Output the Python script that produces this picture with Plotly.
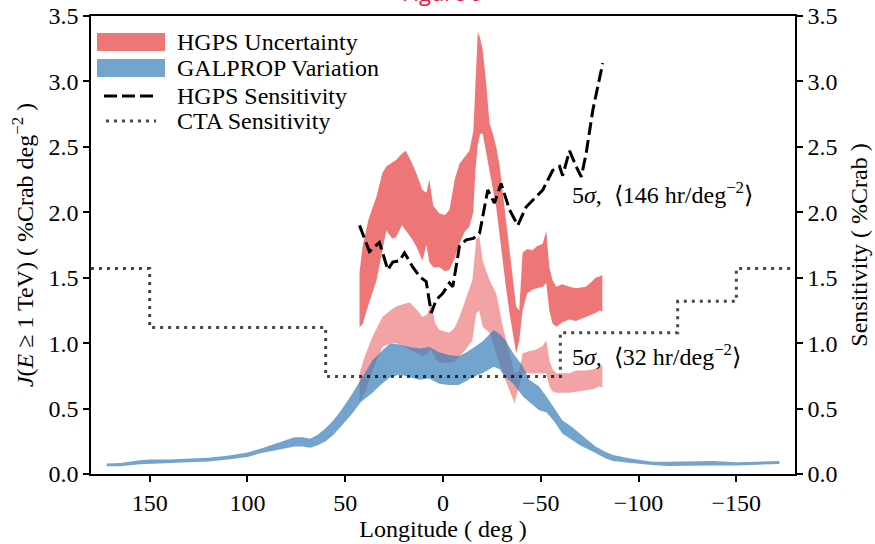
import plotly.graph_objects as go

# ---------------- data ----------------
# GALPROP variation band (blue)
galprop_lon = [172, 165, 155, 150, 140, 130, 120, 110, 100, 93, 86, 80, 76, 72, 68, 64, 60, 56, 52, 47,
               42, 36, 32, 27, 22, 17, 12, 7, 2, -3, -8, -12, -15, -20, -26, -29, -32, -36, -41, -44,
               -49, -53, -57, -61, -66, -70, -74, -78, -83, -87, -95, -101, -107, -115, -125, -138,
               -150, -160, -172]
galprop_lo = [0.06, 0.06, 0.075, 0.08, 0.085, 0.09, 0.095, 0.11, 0.13, 0.16, 0.18, 0.20, 0.21, 0.21, 0.20,
              0.22, 0.25, 0.30, 0.37, 0.45, 0.55, 0.62, 0.68, 0.74, 0.76, 0.74, 0.72, 0.73, 0.69, 0.68,
              0.68, 0.71, 0.74, 0.77, 0.82, 0.80, 0.74, 0.69, 0.59, 0.55, 0.49, 0.47, 0.40, 0.31, 0.26,
              0.22, 0.19, 0.16, 0.12, 0.10, 0.086, 0.075, 0.069, 0.062, 0.063, 0.065, 0.065, 0.07, 0.077]
galprop_hi = [0.08, 0.085, 0.105, 0.11, 0.11, 0.115, 0.125, 0.14, 0.165, 0.195, 0.23, 0.26, 0.28, 0.28, 0.27,
              0.30, 0.35, 0.41, 0.49, 0.60, 0.72, 0.87, 0.93, 1.00, 0.99, 0.97, 0.96, 0.97, 0.93, 0.91,
              0.90, 0.93, 0.96, 1.01, 1.10, 1.07, 1.02, 0.92, 0.82, 0.72, 0.67, 0.59, 0.50, 0.41, 0.36,
              0.31, 0.26, 0.21, 0.17, 0.145, 0.12, 0.105, 0.094, 0.094, 0.095, 0.10, 0.09, 0.095, 0.10]

# HGPS uncertainty band (upper, dark red)
hgps_lon = [42.7, 41, 38, 34, 31, 29, 26, 24, 21, 19, 16, 13.7, 10.5, 8.5, 7, 5, 1.8, -1, -3.3, -6,
            -8.4, -11, -13.5, -15.5, -16.5, -17.8, -19, -20.3, -22, -23.8, -25.5, -27.2, -29, -30.6,
            -32, -34, -36, -37.4, -39, -40.7, -43, -45.8, -48, -51, -52.8, -54.4, -56, -58, -61,
            -64.7, -68, -73, -76, -78, -80, -81.5]
hgps_lo = [1.12, 1.15, 1.30, 1.48, 1.70, 1.86, 1.80, 1.81, 1.90, 1.86, 1.80, 1.74, 1.63, 1.75, 1.62, 1.58,
           1.58, 1.55, 1.56, 1.65, 1.76, 1.85, 1.89, 2.00, 2.30, 2.52, 2.60, 2.60, 2.45, 2.32, 2.18, 2.04,
           1.85, 1.63, 1.45, 1.23, 1.05, 0.92, 1.02, 1.25, 1.38, 1.41, 1.42, 1.43, 1.46, 1.25, 1.15,
           1.125, 1.16, 1.18, 1.17, 1.20, 1.22, 1.23, 1.25, 1.24]
hgps_hi = [1.54, 1.75, 1.95, 2.12, 2.30, 2.35, 2.38, 2.40, 2.45, 2.47, 2.38, 2.30, 2.17, 2.15, 2.25, 2.05,
           1.99, 1.98, 2.02, 2.25, 2.37, 2.42, 2.47, 2.62, 3.00, 3.38, 3.33, 3.24, 3.00, 2.68, 2.60, 2.50,
           2.35, 2.15, 1.95, 1.69, 1.45, 1.28, 1.25, 1.69, 1.72, 1.71, 1.74, 1.76, 1.86, 1.58, 1.48,
           1.43, 1.45, 1.43, 1.42, 1.43, 1.47, 1.50, 1.51, 1.52]

# HGPS uncertainty band (lower, light red)
hgps2_lon = [42.7, 40, 36, 31, 27, 24, 20, 17, 13, 10.5, 8, 6, 4, 1.8, -3.3, -6, -8.4, -12, -15, -17,
             -18.5, -20.3, -23.8, -27.2, -30.6, -34, -36.5, -39, -40.7, -44, -47.6, -51, -52.8, -54.4,
             -56, -58, -64.7, -68, -73, -77, -80, -81.5]
hgps2_lo = [0.55, 0.62, 0.79, 0.97, 1.00, 1.00, 0.98, 0.95, 0.92, 0.90, 0.92, 0.95, 0.88, 0.85, 0.85, 0.86,
            0.90, 0.96, 1.02, 1.23, 1.25, 1.125, 1.08, 0.92, 0.77, 0.64, 0.54, 0.67, 0.77, 0.77, 0.77,
            0.77, 0.77, 0.67, 0.63, 0.62, 0.62, 0.63, 0.64, 0.65, 0.67, 0.66]
hgps2_hi = [0.77, 0.90, 1.05, 1.20, 1.25, 1.28, 1.30, 1.31, 1.25, 1.20, 1.22, 1.31, 1.15, 1.10, 1.08, 1.12,
            1.20, 1.35, 1.48, 1.79, 1.82, 1.63, 1.48, 1.38, 1.125, 0.92, 0.77, 0.79, 0.92, 0.94, 0.95,
            0.98, 1.02, 0.87, 0.80, 0.77, 0.77, 0.79, 0.79, 0.80, 0.82, 0.83]

# HGPS sensitivity (dashed)
hgps_sens_lon = [42.7, 37.6, 32.5, 28.2, 25.7, 22.2, 19.7, 15.4, 12, 8.6, 6, 3.5, 0.1, -3.3, -5, -8.4,
                 -11.9, -15.5, -18.7, -22.9, -26.3, -29.7, -34, -38.2, -42.5, -47.6, -51, -56.1,
                 -59.6, -61.2, -64.7, -68.1, -70.7, -73.2, -76.6, -81.7]
hgps_sens = [1.90, 1.70, 1.77, 1.56, 1.62, 1.63, 1.69, 1.58, 1.51, 1.47, 1.23, 1.33, 1.38, 1.46, 1.43,
             1.74, 1.79, 1.80, 1.84, 2.17, 2.07, 2.22, 2.02, 1.90, 2.04, 2.12, 2.17, 2.32, 2.35, 2.28,
             2.47, 2.35, 2.27, 2.45, 2.78, 3.14]

# CTA sensitivity (dotted steps)
cta_lon = [180, 150, 60, -60, -120, -150, -180]
cta_sens = [1.57, 1.12, 0.745, 1.08, 1.32, 1.57, 1.57]

xtick_vals = [150, 100, 50, 0, -50, -100, -150]
xtick_text = ["150", "100", "50", "0", "\u221250", "\u2212100", "\u2212150"]
ytick_vals = [0.0, 0.5, 1.0, 1.5, 2.0, 2.5, 3.0, 3.5]

legend_labels = ["HGPS Uncertainty", "GALPROP Variation", "HGPS Sensitivity", "CTA Sensitivity"]

# ---------------- styling ----------------
FONT = "Liberation Serif, Times New Roman, serif"
FS = 24
RED = "rgba(228,26,28,0.6)"
PINK = "rgba(228,26,28,0.4)"
BLUE = "rgba(55,126,184,0.7)"
DOT = "rgba(0,0,0,0.72)"

W, H = 875, 544
ML, MR, MT, MB = 91, 80, 16, 70
PW, PH = W - ML - MR, H - MT - MB


def px(x):
    return (x - ML) / PW


def py(y):
    return (H - MB - y) / PH


def band(lon, lo, hi):
    return list(lon) + list(lon)[::-1], list(hi) + list(lo)[::-1]


fig = go.Figure()

bx, by = band(hgps_lon, hgps_lo, hgps_hi)
fig.add_trace(go.Scatter(x=bx, y=by, fill="toself", fillcolor=RED, line=dict(width=0),
                         mode="lines", name=legend_labels[0], showlegend=False, hoverinfo="skip"))
bx, by = band(hgps2_lon, hgps2_lo, hgps2_hi)
fig.add_trace(go.Scatter(x=bx, y=by, fill="toself", fillcolor=PINK, line=dict(width=0),
                         mode="lines", name=legend_labels[0] + " (low)", showlegend=False, hoverinfo="skip"))
bx, by = band(galprop_lon, galprop_lo, galprop_hi)
fig.add_trace(go.Scatter(x=bx, y=by, fill="toself", fillcolor=BLUE, line=dict(width=0),
                         mode="lines", name=legend_labels[1], showlegend=False, hoverinfo="skip"))

fig.add_trace(go.Scatter(x=cta_lon, y=cta_sens, mode="lines", line_shape="hv",
                         line=dict(color=DOT, width=3, dash="3px,5px"),
                         name=legend_labels[3], showlegend=False, yaxis="y2"))
fig.add_trace(go.Scatter(x=hgps_sens_lon, y=hgps_sens, mode="lines",
                         line=dict(color="black", width=3, dash="13px,5px"),
                         name=legend_labels[2], showlegend=False, yaxis="y2"))

# manual legend
shapes = [
    dict(type="rect", xref="paper", yref="paper", x0=px(97), x1=px(165), y0=py(51), y1=py(33),
         fillcolor=RED, line=dict(width=0)),
    dict(type="rect", xref="paper", yref="paper", x0=px(97), x1=px(165), y0=py(77), y1=py(59),
         fillcolor=BLUE, line=dict(width=0)),
    dict(type="line", xref="paper", yref="paper", x0=px(104), x1=px(156), y0=py(96), y1=py(96),
         line=dict(color="black", width=3, dash="13px,5px")),
    dict(type="line", xref="paper", yref="paper", x0=px(106), x1=px(156), y0=py(121), y1=py(121),
         line=dict(color=DOT, width=3, dash="3px,5px")),
]
annotations = []
for lab, yy in zip(legend_labels, [42, 68, 96, 121]):
    annotations.append(dict(xref="paper", yref="paper", x=px(175), y=py(yy), text=lab,
                            showarrow=False, xanchor="left", yanchor="middle",
                            font=dict(family=FONT, size=FS, color="black")))

annotations.append(dict(xref="x", yref="y", x=-65, y=2.15, xanchor="left", yanchor="middle",
                        text="5<i>\u03c3</i>,  \u27e8146 hr/deg<sup>\u22122</sup>\u27e9", showarrow=False,
                        font=dict(family=FONT, size=FS, color="black")))
annotations.append(dict(xref="x", yref="y", x=-65, y=0.91, xanchor="left", yanchor="middle",
                        text="5<i>\u03c3</i>,  \u27e832 hr/deg<sup>\u22122</sup>\u27e9", showarrow=False,
                        font=dict(family=FONT, size=FS, color="black")))
annotations.append(dict(xref="paper", yref="paper", x=0.5, y=py(9), xanchor="center", yanchor="bottom",
                        text="Figure 9", showarrow=False,
                        font=dict(family="Open Sans", size=22, color="#E8173B")))

axis_common = dict(showgrid=False, zeroline=False, showline=True, linecolor="black", linewidth=1.5,
                   ticks="outside", ticklen=6, tickwidth=1.5, tickcolor="black", automargin=False,
                   tickfont=dict(family=FONT, size=FS, color="black"))

fig.update_layout(
    width=W, height=H,
    margin=dict(l=ML, r=MR, t=MT, b=MB, autoexpand=False),
    paper_bgcolor="white", plot_bgcolor="white",
    showlegend=False,
    shapes=shapes, annotations=annotations,
    xaxis=dict(range=[180, -180], tickvals=xtick_vals, ticktext=xtick_text, mirror=True,
               title=dict(text="Longitude ( deg )", font=dict(family=FONT, size=FS, color="black"), standoff=6),
               **axis_common),
    yaxis=dict(range=[0, 3.5], tickvals=ytick_vals, tickformat=".1f",
               title=dict(text="<i>J</i>(<i>E</i> \u2265 1 TeV) ( %Crab deg<sup>\u22122</sup> )",
                          font=dict(family=FONT, size=FS, color="black"), standoff=8),
               **axis_common),
    yaxis2=dict(range=[0, 3.5], tickvals=ytick_vals, tickformat=".1f", overlaying="y", side="right",
                title=dict(text="Sensitivity ( %Crab )", font=dict(family=FONT, size=FS, color="black"),
                           standoff=14),
                **axis_common),
)

fig.write_html("out.html")
